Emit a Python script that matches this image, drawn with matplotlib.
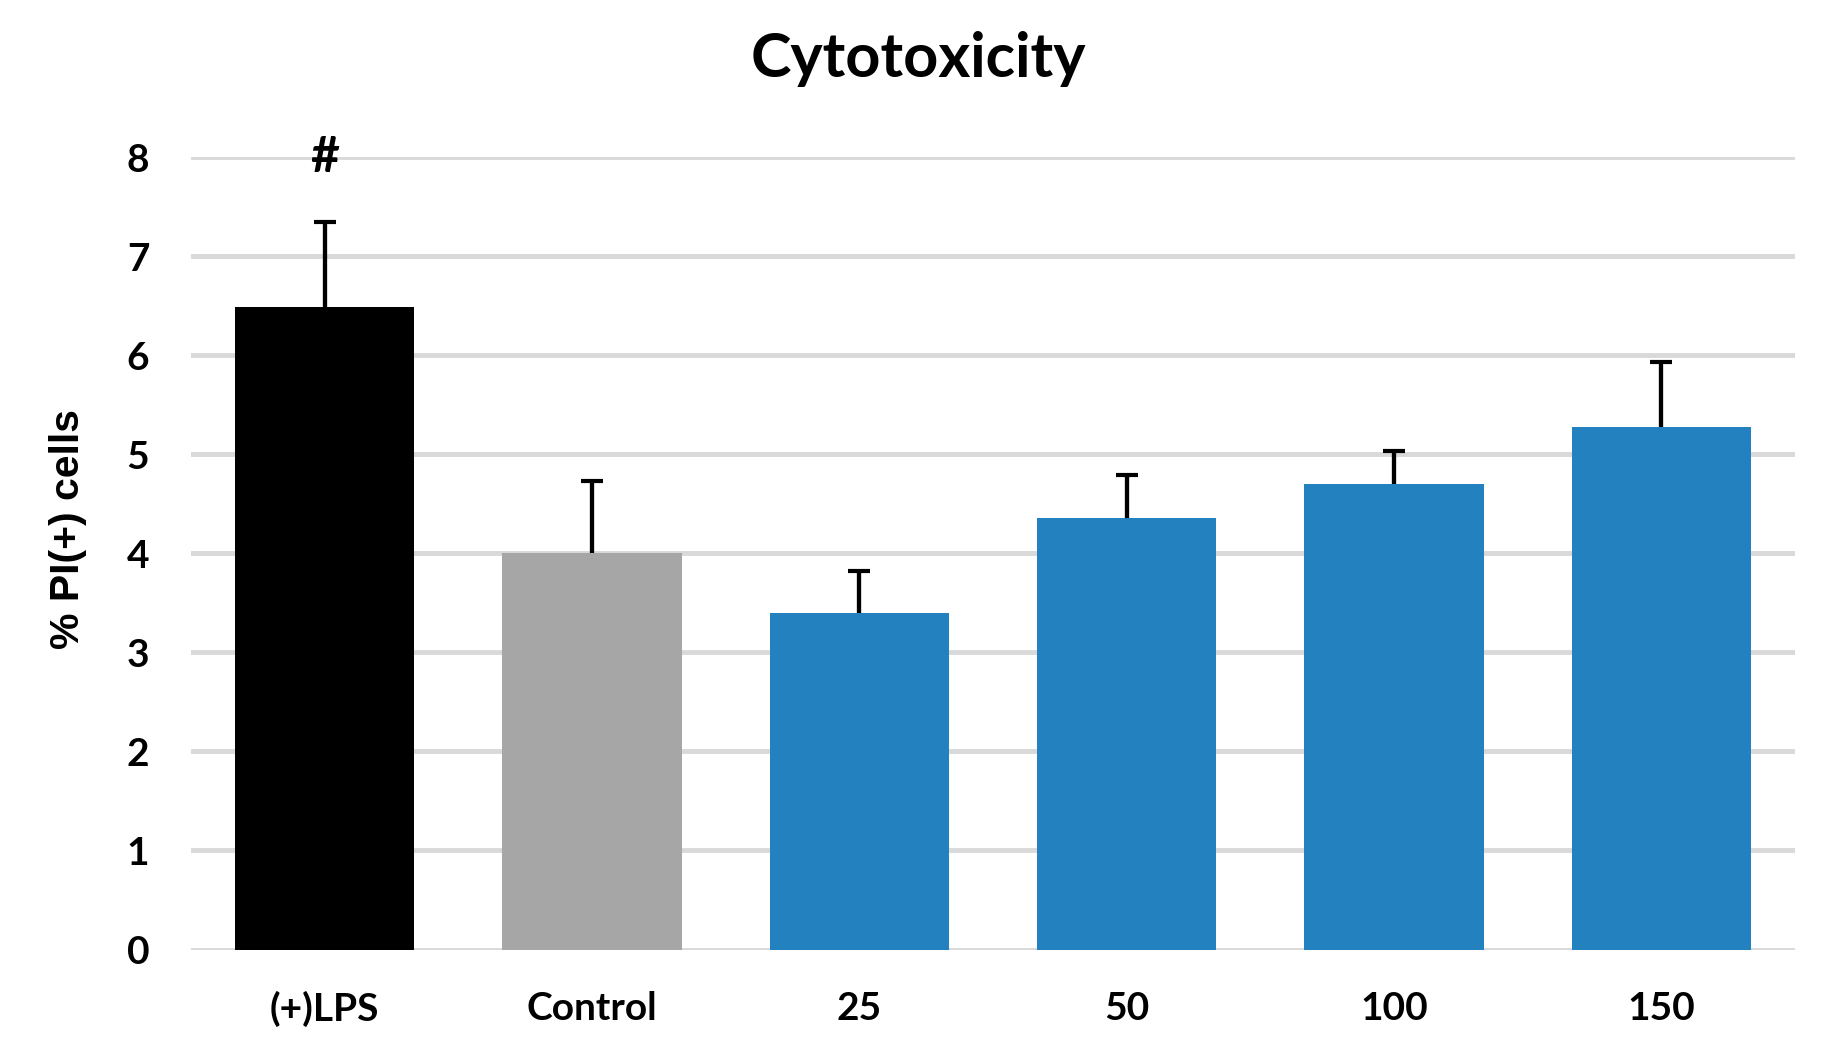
import numpy as np
import matplotlib
matplotlib.use('Agg')
import matplotlib.pyplot as plt

categories = ['(+)LPS', 'Control', '25', '50', '100', '150']
means = [6.49, 4.00, 3.40, 4.36, 4.70, 5.27]
errors = [0.85, 0.73, 0.42, 0.43, 0.33, 0.66]
colors = ['#000000', '#a6a6a6', '#2481c0', '#2481c0', '#2481c0', '#2481c0']
marks = ['#', '', '', '', '', '']

fig = plt.figure(figsize=(18.36, 10.52), dpi=100)
ax = fig.add_axes([191/1836, 1-949.5/1052, 1604/1836, 792.5/1052])

x = np.arange(len(categories))
ax.bar(x, means, 0.67, color=colors, zorder=2)

# only the upper half of the error bar, like Excel
lower = np.zeros(len(means))
eb = ax.errorbar(x, means, yerr=[lower, errors], fmt='none', ecolor='black',
                 elinewidth=3.1, capsize=8, capthick=3, zorder=3)
eb[1][0].set_visible(False)

for xi, t in zip(x, marks):
    if t:
        ax.text(xi, 7.85, t, ha='center', va='baseline', fontsize=36,
                fontweight='bold', family='Lato', clip_on=False)

ax.set_xlim(-0.5, len(categories) - 0.5)
ax.set_ylim(0, 8)
ax.set_yticks(np.arange(0, 9, 1))
ax.set_xticks(x)
ax.set_xticklabels(categories)
ax.grid(axis='y', color='#d9d9d9', linewidth=3.5, zorder=0)
ax.set_axisbelow(True)
for s in ax.spines.values():
    s.set_visible(False)
ax.tick_params(length=0, labelsize=28)
ax.tick_params(axis='x', pad=30)
ax.tick_params(axis='y', pad=30)
for lab in ax.get_xticklabels() + ax.get_yticklabels():
    lab.set_family('Lato')
    lab.set_fontweight('bold')

ax.set_ylabel('% PI(+) cells', fontsize=29.5, fontweight='bold',
              family='Liberation Sans')
ax.yaxis.set_label_coords(-0.065, 0.53)

fig.text(0.5, 1-77/1052, 'Cytotoxicity', ha='center', va='baseline',
         fontsize=44, fontweight='bold', family='Lato')

fig.savefig('out.png', dpi=100)
